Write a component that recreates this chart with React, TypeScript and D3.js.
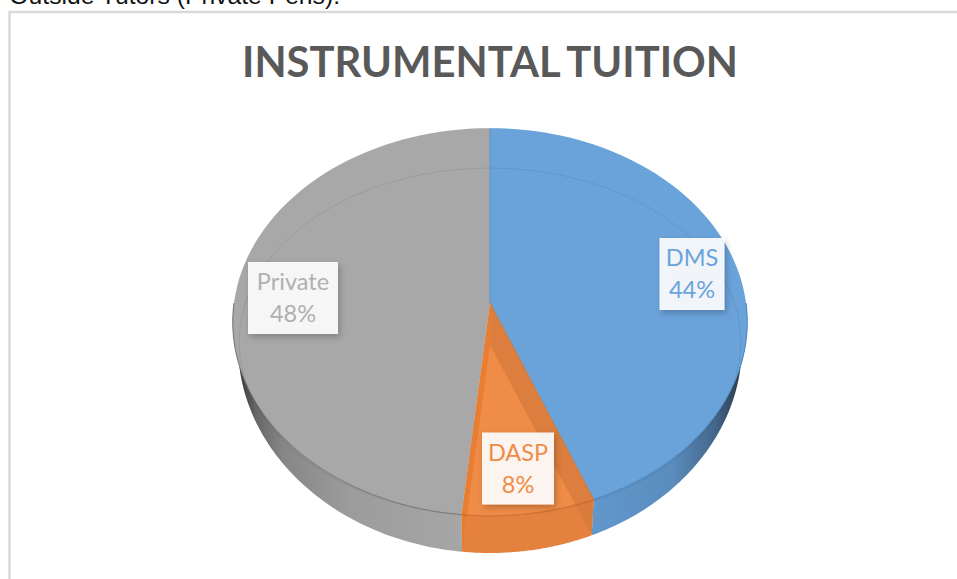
import React from "react";
import * as d3 from "d3";

const title = "INSTRUMENTAL TUITION";
const clippedLine = "Outside Tutors (Private Peris).";
const categories = ["DMS", "DASP", "Private"];
const values = [44, 7.6, 48.4];
const topColors = ["#6aa3da", "#ef8c47", "#a8a8a8"];
const rimColors = ["#4a85bf", "#cc6c2a", "#767676"];
const labelColors = ["#6aa3da", "#ef8c47", "#b0b0b0"];
const labelCentres: [number, number][] = [[692, 274], [518, 468.5], [293, 298]];
const labelWidths = [65, 72, 90];

const W = 957, H = 579;
const cx = 490;
const apexY = 303;
const apexDepth = 42;
// perspective projection of the pie's unit disc
const k = -0.098, A = 192, B = 256;
const topPoint = (a: number): [number, number] => {
  const u = Math.sin(a), v = -Math.cos(a), d = 1 + k * v;
  return [cx + (B * u) / d, apexY + (A * v) / d];
};
const bottomEllipse = { cy: 345, rx: 252, ry: 208 };
const bottomPoint = (a: number): [number, number] => {
  const [x] = topPoint(a);
  const nx = (x - cx) * (252 / 257);
  const dx = nx / bottomEllipse.rx;
  return [cx + nx, bottomEllipse.cy + bottomEllipse.ry * Math.sqrt(Math.max(0, 1 - dx * dx))];
};

const pie = d3.pie<number>().sort(null).value((d) => d);
const arcs = pie(values);
const line = d3.line();

const sampleTop = (a0: number, a1: number) =>
  d3.range(0, 81).map((i) => topPoint(a0 + ((a1 - a0) * i) / 80));
const sampleBottom = (a0: number, a1: number) =>
  d3.range(0, 81).map((i) => bottomPoint(a0 + ((a1 - a0) * i) / 80));

const piePath = (a0: number, a1: number) =>
  line([[cx, apexY], ...sampleTop(a0, a1)])! + "Z";

// side wall between top rim and lower rim over the front half
const frontRange = (a0: number, a1: number): [number, number] | null => {
  const s = Math.max(a0, Math.PI / 2), e = Math.min(a1, (3 * Math.PI) / 2);
  return s < e ? [s, e] : null;
};
const sidePath = (a0: number, a1: number) => {
  const r = frontRange(a0, a1);
  if (!r) return "";
  return line([...sampleTop(r[0], r[1]), ...sampleBottom(r[0], r[1]).reverse()])! + "Z";
};
const rimPath = (a0: number, a1: number) => {
  const r = frontRange(a0, a1);
  if (!r) return "";
  return line(sampleTop(r[0], r[1]))!;
};

const innerWall = (a: number) => {
  const t = topPoint(a), b = bottomPoint(a);
  return line([[cx, apexY], t, b, [cx, apexY + apexDepth]])! + "Z";
};

export default function App() {
  return (
    <svg width={W} height={H} viewBox={`0 0 ${W} ${H}`}
      style={{ position: "absolute", left: 0, top: 0, display: "block", background: "#fff" }}>
      <defs>
        <linearGradient id="sideBlue" gradientUnits="userSpaceOnUse" x1={590} x2={742} y1={0} y2={0}>
          <stop offset="0" stopColor="#6298cd" />
          <stop offset="0.55" stopColor="#5a8cbd" />
          <stop offset="0.82" stopColor="#44678b" />
          <stop offset="1" stopColor="#2b3947" />
        </linearGradient>
        <linearGradient id="sideGrey" gradientUnits="userSpaceOnUse" x1={238} x2={462} y1={0} y2={0}>
          <stop offset="0" stopColor="#333333" />
          <stop offset="0.08" stopColor="#666666" />
          <stop offset="0.2" stopColor="#868686" />
          <stop offset="0.5" stopColor="#9c9c9c" />
          <stop offset="1" stopColor="#a6a6a6" />
        </linearGradient>
        <filter id="labelShadow" x="-20%" y="-20%" width="150%" height="150%">
          <feDropShadow dx="2" dy="3" stdDeviation="3" floodColor="#000" floodOpacity="0.25" />
        </filter>
      </defs>

      <text x={340} y={4} textAnchor="end" fontFamily="Liberation Sans, Arial, sans-serif" fontSize={24.7} fill="#111">{clippedLine}</text>

      <path d={`M9.5 ${H}V12H${W}`} fill="none" stroke="#d9d9d9" strokeWidth={2.5} />

      <text x={490} y={77} textAnchor="middle" fontFamily="Lato, sans-serif" fontWeight={700}
        fontSize={42} fill="#595959" wordSpacing={-2} textLength={496} lengthAdjust="spacingAndGlyphs">{title}</text>

      {/* side walls */}
      {arcs.map((d, i) => (
        <path key={categories[i] + "side"}
          d={sidePath(d.startAngle, d.endAngle)}
          fill={i === 0 ? "url(#sideBlue)" : i === 1 ? "#e5813f" : "url(#sideGrey)"} />
      ))}

      {/* top faces */}
      {arcs.map((d, i) => (
        <path key={categories[i]} d={piePath(d.startAngle, d.endAngle)} fill={topColors[i]} />
      ))}

      {/* inner walls seen through the translucent orange slice */}
      <path d={innerWall(arcs[1].endAngle)} fill="#e67a2e" fillOpacity={0.8} />
      <path d={innerWall(arcs[0].endAngle)} fill="#d67a3c" fillOpacity={0.8} />

      {/* slice edges */}
      <path d={line([[cx, apexY], topPoint(arcs[0].startAngle)])!} stroke="#5b93c9" strokeWidth={1} fill="none" />
      <path d={line([[cx, apexY], topPoint(arcs[0].endAngle)])!} stroke="#c9793f" strokeWidth={1} fill="none" />

      {/* bevel line on the top face */}
      <ellipse cx={490} cy={342} rx={251} ry={174} fill="none" stroke="#000" strokeOpacity={0.08} strokeWidth={1} />
      {arcs.map((d, i) => (
        <path key={categories[i] + "rim"} d={rimPath(d.startAngle, d.endAngle)} fill="none"
          stroke={rimColors[i]} strokeWidth={1} />
      ))}

      {/* data labels */}
      {categories.map((c, i) => {
        const [lx, ly] = labelCentres[i];
        const w = labelWidths[i];
        const h = 72;
        return (
          <g key={c + "label"}>
            <rect x={lx - w / 2} y={ly - h / 2} width={w} height={h} fill="#fff" fillOpacity={0.9}
              filter="url(#labelShadow)" />
            <g fontFamily="Lato, sans-serif" fontSize={23.5} fill={labelColors[i]} textAnchor="middle">
              <text x={lx} y={ly - 8}>{c}</text>
              <text x={lx} y={ly + 24}>{`${Math.round(values[i])}%`}</text>
            </g>
          </g>
        );
      })}
    </svg>
  );
}
